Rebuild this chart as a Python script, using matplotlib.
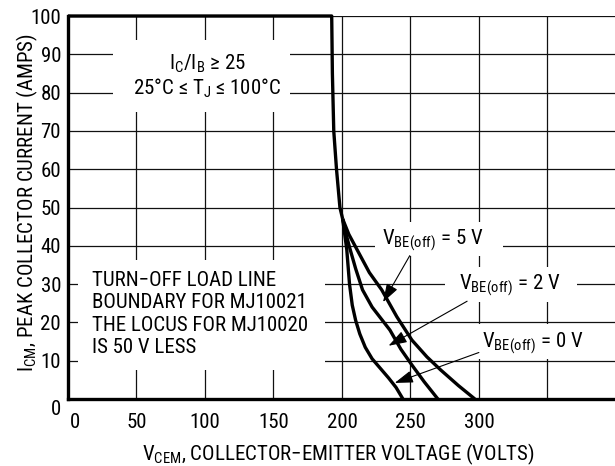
import matplotlib
matplotlib.use("Agg")
import matplotlib.pyplot as plt
from matplotlib import font_manager
from matplotlib.patches import Rectangle
from matplotlib.transforms import ScaledTranslation

# ---------------- data ----------------
main_v = [0, 192.5, 193.0, 194.0, 196.0, 198.5, 200.5]
main_i = [100, 100, 85, 70, 60, 50, 47]

v5_v = [200.5, 205, 211, 220, 229, 240, 251, 262, 272, 285, 297]
v5_i = [47, 43, 39, 33, 28.5, 21.5, 15.4, 11, 7.6, 3.5, 0]

v2_v = [200.5, 203, 206, 210, 215, 222, 235, 243, 251, 260, 270]
v2_i = [47, 43, 39, 34, 28.5, 24, 18, 13, 8.9, 4.5, 0]

v0_v = [200.5, 202, 203.5, 205.5, 207.5, 210, 213, 217, 222, 228, 234, 239.5, 244.5]
v0_i = [47, 43, 39, 30, 24.5, 20.5, 17, 13.5, 10.5, 8, 5.5, 3, 0]

x_ticks = [0, 50, 100, 150, 200, 250, 300, 350]
x_labels = ["0", "50", "100", "150", "200", "250", "300", ""]
y_ticks = [0, 10, 20, 30, 40, 50, 60, 70, 80, 90, 100]
y_labels = ["0", "10", "20", "30", "40", "50", "60", "70", "80", "90", "100"]

# ---------------- fonts ----------------
avail = {f.name for f in font_manager.fontManager.ttflist}
FS = 14
fam = None
for name, size in [("Liberation Sans Narrow", 15), ("Arial Narrow", 15),
                   ("Roboto Condensed", 15), ("Roboto", 14),
                   ("Liberation Sans", 13), ("DejaVu Sans", 12)]:
    if name in avail:
        fam, FS = name, size
        break
families = [fam, "Liberation Sans", "DejaVu Sans"]
plt.rcParams["font.family"] = families
plt.rcParams["mathtext.fontset"] = "custom"
plt.rcParams["mathtext.rm"] = fam
plt.rcParams["mathtext.it"] = fam
plt.rcParams["mathtext.bf"] = fam
plt.rcParams["axes.unicode_minus"] = True

fig = plt.figure(figsize=(6.15, 4.66), dpi=100)
ax = fig.add_axes([68 / 615, 67 / 466, (615 - 68) / 615, 383 / 466])
ax.set_xlim(0, 399.3)
ax.set_ylim(0, 100)

# grid
ax.set_xticks(x_ticks)
ax.set_xticklabels(x_labels)
ax.set_yticks(y_ticks)
ax.set_yticklabels(y_labels)
ax.grid(True, color="#111111", linewidth=0.9, zorder=0.5)
ax.set_axisbelow(True)
ax.tick_params(length=0, labelsize=FS)
ax.tick_params(axis="x", pad=10)
ax.tick_params(axis="y", pad=5)
for s in ["top", "right"]:
    ax.spines[s].set_visible(False)
for s in ["left", "bottom"]:
    ax.spines[s].set_linewidth(2.4)
    ax.spines[s].set_zorder(5)

# offsets for the origin labels
for lab in ax.get_yticklabels():
    if lab.get_text() == "0":
        lab.set_transform(lab.get_transform() + ScaledTranslation(0, -6 / 72, fig.dpi_scale_trans))
for lab in ax.get_xticklabels():
    if lab.get_text() == "0":
        lab.set_transform(lab.get_transform() + ScaledTranslation(5 / 72, 0, fig.dpi_scale_trans))

# white masks behind the text blocks
masks = [
    (33, 74.9, 129, 18.8),
    (7.3, 7.6, 180.3, 28.7),
    (224, 37.3, 93.5, 8.9),
    (275, 25.3, 96.5, 9.2),
    (295, 10.4, 95, 9.2),
]
for (x0, y0, w, h) in masks:
    ax.add_patch(Rectangle((x0, y0), w, h, facecolor="white", edgecolor="none", zorder=1))

# curves
lw = 2.4
for vv, ii in [(main_v, main_i), (v5_v, v5_i), (v2_v, v2_i), (v0_v, v0_i)]:
    ax.plot(vv, ii, color="black", linewidth=lw, solid_joinstyle="round",
            solid_capstyle="butt", zorder=3, clip_on=False)

# texts
ax.text(101.5, 87.6, r"$\mathregular{I_C/I_B}$ ≥ 25", ha="center", va="center", fontsize=FS, zorder=4)
ax.text(101.5, 81.0, r"25°C ≤ $\mathregular{T_J}$ ≤ 100°C", ha="center", va="center", fontsize=FS, zorder=4)

ax.text(17.5, 33.4, "TURN−OFF LOAD LINE\nBOUNDARY FOR MJ10021\nTHE LOCUS FOR MJ10020\nIS 50 V LESS",
        ha="left", va="top", fontsize=FS, linespacing=1.22, zorder=4)


def arrow(rx, ry):
    return dict(arrowstyle="-|>,head_length=0.75,head_width=0.25", color="black", lw=0.8,
                shrinkA=0, shrinkB=0, relpos=(rx, ry))


ax.annotate(r"$\mathregular{V_{BE(off)}}$ = 5 V", xy=(230, 25.3), xytext=(266, 41.5),
            ha="center", va="center", fontsize=FS, zorder=4, arrowprops=arrow(0.3, 0.05))
ax.annotate(r"$\mathregular{V_{BE(off)}}$ = 2 V", xy=(234, 13.9), xytext=(322.5, 29.6),
            ha="center", va="center", fontsize=FS, zorder=4, arrowprops=arrow(0.15, 0.05))
ax.annotate(r"$\mathregular{V_{BE(off)}}$ = 0 V", xy=(238.5, 4.2), xytext=(339, 14.6),
            ha="center", va="center", fontsize=FS, zorder=4, arrowprops=arrow(0.02, 0.2))

ax.set_xlabel(r"$\mathregular{V_{CEM}}$, COLLECTOR−EMITTER VOLTAGE (VOLTS)", fontsize=FS)
ax.xaxis.label.set_va("baseline")
ax.xaxis.set_label_coords((338 - 68) / 547, (399 - 460) / 383)
ax.set_ylabel(r"$\mathregular{I_{CM}}$, PEAK COLLECTOR CURRENT (AMPS)", fontsize=FS)
ax.yaxis.label.set_va("baseline")
ax.yaxis.set_label_coords((33 - 68) / 547, (399 - 203) / 383)

fig.savefig("out.png", dpi=100)
